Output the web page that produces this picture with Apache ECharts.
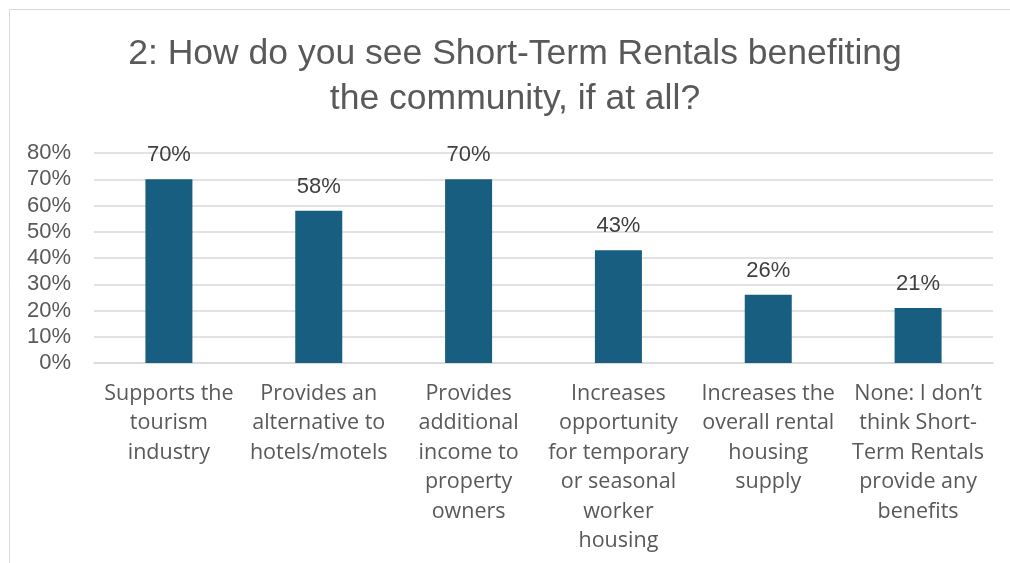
<!DOCTYPE html>
<html>
<head>
<meta charset="utf-8">
<script src="https://cdn.jsdelivr.net/npm/echarts@6/dist/echarts.min.js"></script>
<style>
  html, body { margin: 0; padding: 0; background: #ffffff; }
  #chart { width: 1010px; height: 563px; }
</style>
</head>
<body>
<div id="chart"></div>
<script>
// Survey question 2: perceived community benefits of short-term rentals
const categories = [
  'Supports the\ntourism\nindustry',
  'Provides an\nalternative to\nhotels/motels',
  'Provides\nadditional\nincome to\nproperty\nowners',
  'Increases\nopportunity\nfor temporary\nor seasonal\nworker\nhousing',
  'Increases the\noverall rental\nhousing\nsupply',
  'None: I don\u2019t\nthink Short-\nTerm Rentals\nprovide any\nbenefits'
];
const shares = [70, 58, 70, 43, 26, 21];
const yTicks = { min: 0, max: 80, step: 10 };
const titleText = '2: How do you see Short-Term Rentals benefiting\nthe community, if at all?';

const textGray = '#595959';
const barColor = '#175E80';

const chart = echarts.init(document.getElementById('chart'), null, { renderer: 'canvas' });
chart.setOption({
  backgroundColor: '#ffffff',
  animation: false,
  graphic: [
    {
      type: 'rect',
      shape: { x: 9.5, y: 9.5, width: 1100, height: 700 },
      style: { fill: 'none', stroke: '#d9d9d9', lineWidth: 1 },
      silent: true
    },
    {
      // two-line chart title, each line centred on the plot
      type: 'text',
      x: 515,
      y: 32,
      style: {
        text: titleText,
        fill: textGray,
        font: 'normal 35.5px "Liberation Sans"',
        lineHeight: 45,
        align: 'center',
        verticalAlign: 'top'
      },
      silent: true
    }
  ],
  grid: { left: 94, right: 17, top: 153, bottom: 200, containLabel: false },
  xAxis: {
    type: 'category',
    data: categories,
    axisTick: { show: false },
    axisLine: { show: true, lineStyle: { color: '#d9d9d9', width: 1.5 } },
    axisLabel: {
      interval: 0,
      color: textGray,
      fontFamily: 'Open Sans',
      fontSize: 21.5,
      lineHeight: 29.5,
      margin: 16,
      align: 'center'
    }
  },
  yAxis: {
    type: 'value',
    min: yTicks.min,
    max: yTicks.max,
    interval: yTicks.step,
    axisLine: { show: false },
    axisTick: { show: false },
    splitLine: { lineStyle: { color: '#d9d9d9', width: 1.5 } },
    axisLabel: {
      formatter: '{value}%',
      color: textGray,
      fontFamily: 'Liberation Sans',
      fontSize: 22,
      margin: 23
    }
  },
  series: [{
    type: 'bar',
    data: shares,
    barWidth: 47,
    itemStyle: { color: barColor },
    label: {
      show: true,
      position: 'top',
      distance: 13,
      formatter: '{c}%',
      color: '#404040',
      fontFamily: 'Liberation Sans',
      fontSize: 22
    }
  }]
});
</script>
</body>
</html>
